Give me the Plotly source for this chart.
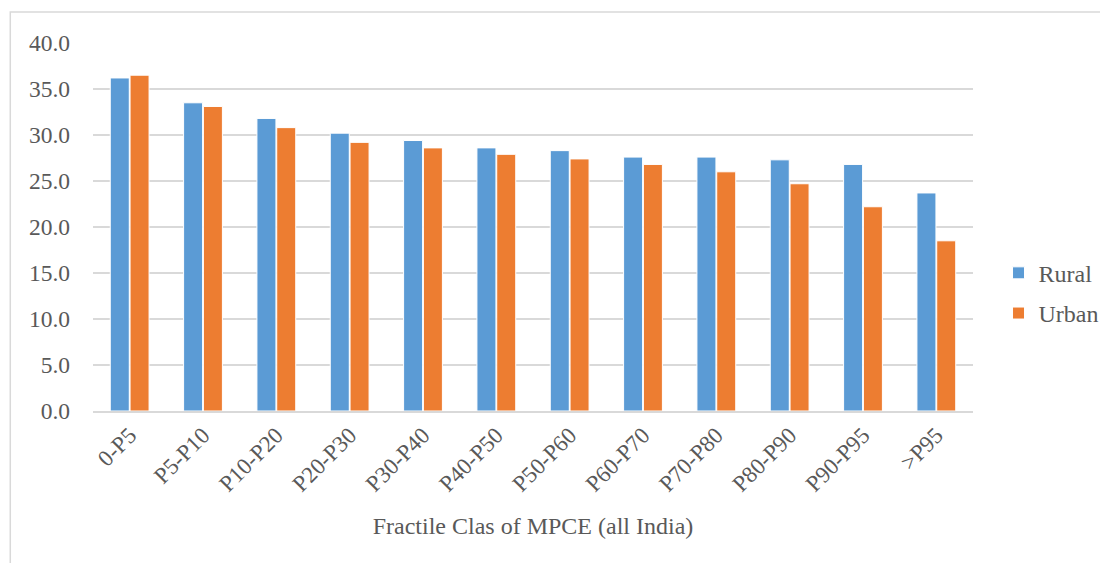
import plotly.graph_objects as go

categories = ["0-P5", "P5-P10", "P10-P20", "P20-P30", "P30-P40", "P40-P50",
              "P50-P60", "P60-P70", "P70-P80", "P80-P90", "P90-P95", ">P95"]
rural = [36.2, 33.5, 31.8, 30.2, 29.4, 28.6, 28.3, 27.6, 27.6, 27.3, 26.8, 23.7]
urban = [36.5, 33.1, 30.8, 29.2, 28.6, 27.9, 27.4, 26.8, 26.0, 24.7, 22.2, 18.5]

font = "Liberation Serif"
grey = "#595959"

fig = go.Figure()
fig.add_trace(go.Bar(x=categories, y=rural, name="Rural", legendgroup="r",
                     marker=dict(color="#5B9BD5", line=dict(color="white", width=1))))
fig.add_trace(go.Bar(x=categories, y=urban, name="Urban", legendgroup="u",
                     marker=dict(color="#ED7D31", line=dict(color="white", width=1))))

fig.update_layout(
    width=1108, height=563,
    margin=dict(l=85, r=135, t=35, b=160),
    plot_bgcolor="white", paper_bgcolor="white",
    barmode="group", bargap=0.46, bargroupgap=0.04,
    font=dict(family=font, size=23, color=grey),
    legend=dict(x=1.029, y=0.32, xanchor="left", yanchor="middle",
                font=dict(family=font, size=24, color=grey),
                itemwidth=30, tracegroupgap=6),
    xaxis=dict(tickangle=-45, showgrid=False, showline=True, linecolor="#d9d9d9",
               linewidth=1.5, ticks="", tickfont=dict(family=font, size=23, color=grey),
               title=dict(text="Fractile Clas of MPCE (all India)",
                          font=dict(family=font, size=24, color=grey), standoff=22)),
    yaxis=dict(range=[0, 40], dtick=5, tickformat=".1f", showgrid=True,
               gridcolor="#d9d9d9", gridwidth=1.5, zeroline=False, showline=False,
               ticks="", ticklabelstandoff=22,
               tickfont=dict(family=font, size=23.5, color=grey)),
    shapes=[dict(type="rect", xref="paper", yref="paper",
                 x0=-0.094, x1=1.16, y0=-0.45, y1=1.084,
                 line=dict(color="#d9d9d9", width=1.5), layer="below")],
)

fig.write_html("out.html")
